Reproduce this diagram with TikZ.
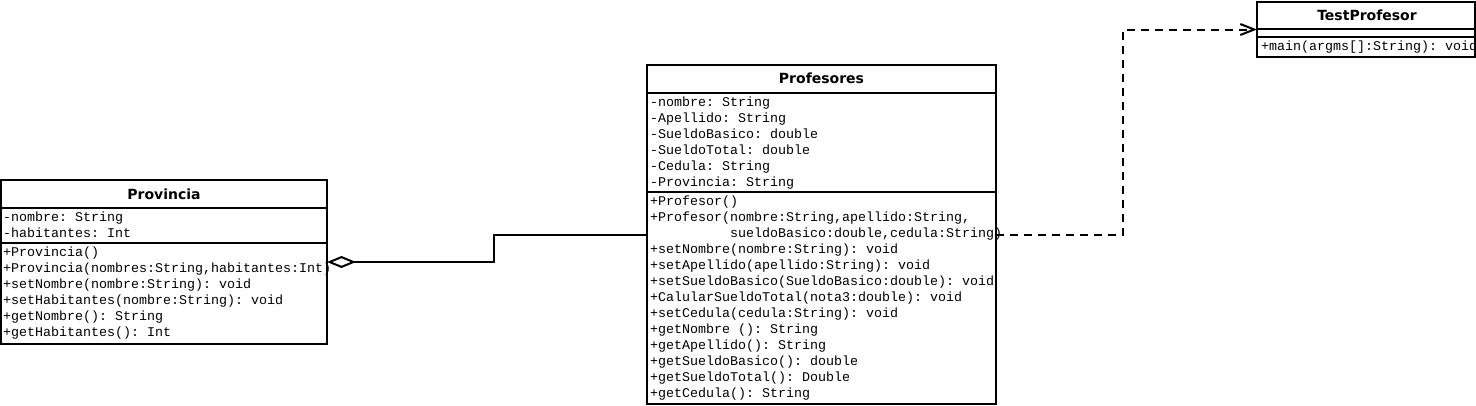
\documentclass[tikz,border=0pt]{standalone}
\usepackage{fontspec}
\setmonofont{Liberation Mono}
\newfontfamily\titlefont{DejaVu Sans}
\usetikzlibrary{arrows.meta}
\tikzset{
  classbox/.style={draw=black, line width=2pt, fill=white, inner sep=0pt, outer sep=0pt, anchor=north west},
  sep/.style={draw=black, line width=2pt},
  ttl/.style={anchor=base, inner sep=0pt, font=\titlefont\bfseries\fontsize{14}{16}\selectfont},
  mem/.style={anchor=base west, inner sep=0pt, font=\ttfamily\fontsize{13.33}{16}\selectfont},
  aggr/.style={draw=black, line width=2pt, -{Diamond[open, length=29pt, width=12pt, line width=2pt]}},
  dep/.style={draw=black, line width=2pt, dash pattern=on 8pt off 6pt, -{Straight Barb[length=14pt, width=11pt, line width=2pt]}}
}
\begin{document}
\begin{tikzpicture}[x=1pt,y=-1pt]
\useasboundingbox (0,0) rectangle (1476,405);
% Provincia
\node[classbox, minimum width=326pt, minimum height=164pt] (prov) at (1,180) {};
\draw[sep] (1,208) -- (327,208);
\draw[sep] (1,243) -- (327,243);
\node[ttl] (provT) at (164,199) {Provincia};
\node[mem] (pa1) at (3,221) {-nombre: String};
\node[mem] (pa2) at (3,237) {-habitantes: Int};
\node[mem] (pm1) at (3,256) {+Provincia()};
\node[mem] (pm2) at (3,272) {+Provincia(nombres:String,habitantes:Int)};
\node[mem] (pm3) at (3,288) {+setNombre(nombre:String): void};
\node[mem] (pm4) at (3,304) {+setHabitantes(nombre:String): void};
\node[mem] (pm5) at (3,320) {+getNombre(): String};
\node[mem] (pm6) at (3,336) {+getHabitantes(): Int};
% Profesores
\node[classbox, minimum width=349pt, minimum height=339pt] (prof) at (647,65) {};
\draw[sep] (647,93) -- (996,93);
\draw[sep] (647,192) -- (996,192);
\node[ttl] (profT) at (821.5,83) {Profesores};
\node[mem] (fa1) at (650,106) {-nombre: String};
\node[mem] (fa2) at (650,122) {-Apellido: String};
\node[mem] (fa3) at (650,138) {-SueldoBasico: double};
\node[mem] (fa4) at (650,154) {-SueldoTotal: double};
\node[mem] (fa5) at (650,170) {-Cedula: String};
\node[mem] (fa6) at (650,186) {-Provincia: String};
\node[mem] (fm1) at (650,205) {+Profesor()};
\node[mem] (fm2) at (650,221) {+Profesor(nombre:String,apellido:String,};
\node[mem] (fm3) at (730,237) {sueldoBasico:double,cedula:String)};
\node[mem] (fm4) at (650,253) {+setNombre(nombre:String): void};
\node[mem] (fm5) at (650,269) {+setApellido(apellido:String): void};
\node[mem] (fm6) at (650,285) {+setSueldoBasico(SueldoBasico:double): void};
\node[mem] (fm7) at (650,301) {+CalularSueldoTotal(nota3:double): void};
\node[mem] (fm8) at (650,317) {+setCedula(cedula:String): void};
\node[mem] (fm9) at (650,333) {+getNombre (): String};
\node[mem] (fm10) at (650,349) {+getApellido(): String};
\node[mem] (fm11) at (650,365) {+getSueldoBasico(): double};
\node[mem] (fm12) at (650,381) {+getSueldoTotal(): Double};
\node[mem] (fm13) at (650,397) {+getCedula(): String};
% TestProfesor
\node[classbox, minimum width=218pt, minimum height=55pt] (test) at (1257,2) {};
\draw[sep] (1257,29) -- (1475,29);
\draw[sep] (1257,37) -- (1475,37);
\node[ttl] (testT) at (1367,20) {TestProfesor};
\begin{scope}
\clip (1257,37) rectangle (1474,57);
\node[mem] (tm1) at (1261,50) {+main(argms[]:String): void};
\end{scope}
% connectors
\draw[aggr] (prof.west) -- ++(-153,0) |- (prov.east);
\draw[dep] (prof.east) -- ++(127,0) |- (test.west);
\end{tikzpicture}
\end{document}
